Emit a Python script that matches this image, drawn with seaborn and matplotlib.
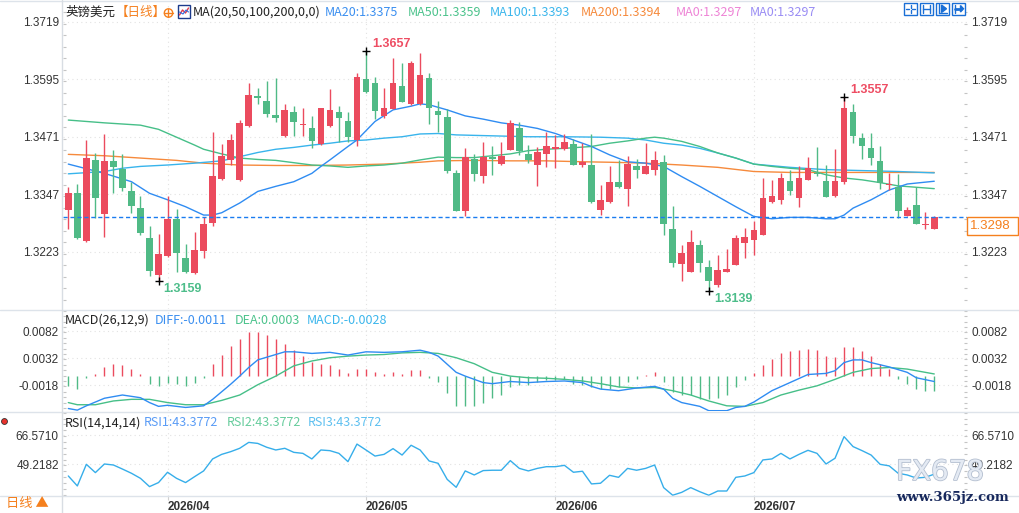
import numpy as np
import pandas as pd
import matplotlib
matplotlib.use("Agg")
import matplotlib.pyplot as plt
import matplotlib.patheffects as pe
from matplotlib.patches import Rectangle, Circle
from matplotlib.ticker import MultipleLocator
import seaborn as sns

# ---- values (GBP/USD daily) ----
dates = pd.bdate_range("2026-03-17", "2026-07-29")

opens = [1.3313, 1.3349, 1.3246, 1.3421, 1.3305, 1.3418, 1.3401, 1.3354, 1.3317, 1.3252,
         1.3173, 1.3214, 1.3293, 1.3209, 1.3178, 1.3225, 1.3284, 1.3380, 1.3421, 1.3377,
         1.3494, 1.3559, 1.3548, 1.3518, 1.3472, 1.3524, 1.3496, 1.3490, 1.3455, 1.3495,
         1.3524, 1.3505, 1.3464, 1.3595, 1.3587, 1.3516, 1.3531, 1.3580, 1.3541, 1.3541,
         1.3597, 1.3527, 1.3513, 1.3392, 1.3311, 1.3424, 1.3387, 1.3427, 1.3412, 1.3443,
         1.3490, 1.3434, 1.3410, 1.3434, 1.3444, 1.3444, 1.3455, 1.3410, 1.3410, 1.3313,
         1.3330, 1.3373, 1.3358, 1.3408, 1.3391, 1.3400, 1.3416, 1.3272, 1.3197, 1.3180,
         1.3237, 1.3190, 1.3152, 1.3180, 1.3195, 1.3242, 1.3249, 1.3259, 1.3330, 1.3334,
         1.3375, 1.3339, 1.3378, 1.3392, 1.3375, 1.3344, 1.3374, 1.3524, 1.3468, 1.3446,
         1.3418, 1.3367, 1.3363, 1.3300, 1.3324, 1.3280, 1.3272]
highs = [1.3363, 1.3370, 1.3464, 1.3437, 1.3476, 1.3442, 1.3433, 1.3374, 1.3343, 1.3278,
         1.3261, 1.3343, 1.3316, 1.3239, 1.3265, 1.3297, 1.3482, 1.3455, 1.3477, 1.3507,
         1.3587, 1.3577, 1.3592, 1.3597, 1.3541, 1.3538, 1.3533, 1.3515, 1.3534, 1.3574,
         1.3537, 1.3525, 1.3609, 1.3657, 1.3600, 1.3576, 1.3641, 1.3631, 1.3634, 1.3652,
         1.3608, 1.3548, 1.3530, 1.3400, 1.3447, 1.3434, 1.3459, 1.3451, 1.3459, 1.3507,
         1.3503, 1.3454, 1.3449, 1.3482, 1.3474, 1.3478, 1.3467, 1.3458, 1.3478, 1.3367,
         1.3408, 1.3421, 1.3429, 1.3422, 1.3457, 1.3440, 1.3431, 1.3322, 1.3237, 1.3270,
         1.3248, 1.3205, 1.3215, 1.3229, 1.3259, 1.3274, 1.3290, 1.3383, 1.3377, 1.3393,
         1.3399, 1.3408, 1.3427, 1.3449, 1.3410, 1.3444, 1.3557, 1.3541, 1.3479, 1.3479,
         1.3451, 1.3393, 1.3390, 1.3320, 1.3363, 1.3308, 1.3300]
lows = [1.3272, 1.3250, 1.3244, 1.3295, 1.3255, 1.3350, 1.3354, 1.3307, 1.3258, 1.3171,
        1.3159, 1.3212, 1.3180, 1.3178, 1.3175, 1.3209, 1.3279, 1.3377, 1.3410, 1.3376,
        1.3492, 1.3541, 1.3514, 1.3503, 1.3471, 1.3472, 1.3472, 1.3446, 1.3453, 1.3493,
        1.3460, 1.3460, 1.3451, 1.3566, 1.3510, 1.3512, 1.3530, 1.3546, 1.3540, 1.3540,
        1.3498, 1.3482, 1.3393, 1.3310, 1.3300, 1.3376, 1.3372, 1.3388, 1.3410, 1.3443,
        1.3431, 1.3415, 1.3365, 1.3406, 1.3404, 1.3443, 1.3410, 1.3406, 1.3329, 1.3302,
        1.3329, 1.3361, 1.3322, 1.3382, 1.3390, 1.3388, 1.3260, 1.3190, 1.3160, 1.3179,
        1.3180, 1.3139, 1.3147, 1.3179, 1.3194, 1.3210, 1.3216, 1.3258, 1.3329, 1.3326,
        1.3346, 1.3320, 1.3377, 1.3387, 1.3341, 1.3341, 1.3369, 1.3458, 1.3423, 1.3410,
        1.3358, 1.3357, 1.3295, 1.3299, 1.3283, 1.3272, 1.3271]
closes = [1.3349, 1.3252, 1.3425, 1.3339, 1.3418, 1.3406, 1.3361, 1.3322, 1.3264, 1.3182,
          1.3218, 1.3293, 1.3221, 1.3180, 1.3226, 1.3283, 1.3386, 1.3429, 1.3464, 1.3500,
          1.3561, 1.3555, 1.3521, 1.3512, 1.3528, 1.3503, 1.3498, 1.3462, 1.3533, 1.3528,
          1.3512, 1.3471, 1.3600, 1.3568, 1.3527, 1.3533, 1.3587, 1.3546, 1.3631, 1.3604,
          1.3534, 1.3518, 1.3397, 1.3311, 1.3427, 1.3390, 1.3427, 1.3423, 1.3430, 1.3500,
          1.3441, 1.3421, 1.3439, 1.3451, 1.3449, 1.3459, 1.3410, 1.3417, 1.3330, 1.3334,
          1.3373, 1.3363, 1.3412, 1.3400, 1.3408, 1.3421, 1.3283, 1.3199, 1.3220, 1.3244,
          1.3199, 1.3160, 1.3183, 1.3186, 1.3252, 1.3254, 1.3270, 1.3339, 1.3343, 1.3382,
          1.3354, 1.3382, 1.3403, 1.3390, 1.3341, 1.3375, 1.3533, 1.3472, 1.3451, 1.3425,
          1.3372, 1.3369, 1.3311, 1.3313, 1.3283, 1.3283, 1.3298]

# moving averages, read at sample candles
ma20_idx = [0, 4, 7, 9, 11, 13, 15, 16, 17, 19, 21, 23, 25, 27, 28, 29, 31, 32, 34, 36,
            38, 39, 40, 42, 44, 46, 48, 50, 52, 54, 56, 58, 60, 62, 64, 66, 68, 70, 72, 74,
            76, 78, 80, 82, 84, 85, 86, 87, 89, 91, 93, 96]
ma20_val = [1.3412, 1.3392, 1.3374, 1.3349, 1.3335, 1.3320, 1.3302, 1.3302, 1.3307, 1.3328,
            1.3353, 1.3364, 1.3374, 1.3392, 1.3407, 1.3421, 1.3450, 1.3464, 1.3504, 1.3529,
            1.3537, 1.3542, 1.3540, 1.3529, 1.3516, 1.3509, 1.3501, 1.3496, 1.3489, 1.3478,
            1.3464, 1.3450, 1.3432, 1.3417, 1.3414, 1.3407, 1.3385, 1.3364, 1.3342, 1.3320,
            1.3299, 1.3294, 1.3297, 1.3297, 1.3294, 1.3294, 1.3302, 1.3317, 1.3335, 1.3356,
            1.3369, 1.3375]
ma50_idx = [0, 4, 8, 10, 12, 14, 15, 17, 19, 21, 23, 25, 27, 29, 31, 33, 35, 37, 39, 41,
            43, 45, 47, 49, 51, 53, 55, 58, 60, 62, 64, 65, 66, 68, 70, 72, 74, 76, 78, 80,
            82, 84, 86, 88, 90, 92, 94, 96]
ma50_val = [1.3507, 1.3501, 1.3496, 1.3487, 1.3470, 1.3453, 1.3444, 1.3434, 1.3425, 1.3422,
            1.3420, 1.3415, 1.3410, 1.3408, 1.3405, 1.3408, 1.3410, 1.3414, 1.3421, 1.3427,
            1.3426, 1.3426, 1.3430, 1.3434, 1.3441, 1.3444, 1.3446, 1.3450, 1.3457, 1.3462,
            1.3468, 1.3470, 1.3468, 1.3461, 1.3450, 1.3436, 1.3425, 1.3412, 1.3407, 1.3403,
            1.3400, 1.3389, 1.3382, 1.3378, 1.3372, 1.3365, 1.3362, 1.3359]
ma100_idx = [0, 4, 6, 8, 11, 14, 17, 19, 21, 23, 25, 27, 29, 31, 33, 35, 37, 39, 41, 43,
             47, 51, 55, 59, 62, 64, 66, 68, 70, 72, 74, 76, 80, 84, 88, 92, 96]
ma100_val = [1.3391, 1.3396, 1.3403, 1.3407, 1.3410, 1.3414, 1.3419, 1.3428, 1.3437, 1.3444,
             1.3448, 1.3453, 1.3457, 1.3462, 1.3464, 1.3468, 1.3471, 1.3477, 1.3478, 1.3475,
             1.3473, 1.3471, 1.3471, 1.3470, 1.3468, 1.3464, 1.3457, 1.3453, 1.3446, 1.3436,
             1.3425, 1.3412, 1.3405, 1.3400, 1.3398, 1.3396, 1.3393]
ma200_idx = [0, 4, 8, 12, 15, 19, 23, 27, 31, 35, 39, 41, 45, 49, 53, 57, 60, 64, 68, 72,
             76, 80, 88, 96]
ma200_val = [1.3433, 1.3430, 1.3425, 1.3420, 1.3414, 1.3410, 1.3409, 1.3409, 1.3410, 1.3412,
             1.3416, 1.3419, 1.3420, 1.3419, 1.3419, 1.3417, 1.3416, 1.3414, 1.3410, 1.3405,
             1.3396, 1.3394, 1.3394, 1.3394]

# MACD(26,12,9)
macd_hist = [-0.0020, -0.0025, -0.0004, 0.0002, 0.0015, 0.0022, 0.0020, 0.0013, 0.0002, -0.0016,
             -0.0020, -0.0013, -0.0015, -0.0020, -0.0014, -0.0004, 0.0021, 0.0039, 0.0054, 0.0067,
             0.0080, 0.0080, 0.0075, 0.0067, 0.0059, 0.0048, 0.0036, 0.0025, 0.0022, 0.0020,
             0.0013, 0.0004, 0.0013, 0.0013, 0.0007, 0.0002, 0.0006, 0.0002, 0.0010, 0.0010,
             -0.0004, -0.0012, -0.0033, -0.0057, -0.0056, -0.0056, -0.0050, -0.0042, -0.0036, -0.0022,
             -0.0017, -0.0017, -0.0011, -0.0009, -0.0009, -0.0006, -0.0015, -0.0017, -0.0021, -0.0025,
             -0.0025, -0.0021, -0.0011, -0.0006, 0.0001, 0.0006, -0.0011, -0.0031, -0.0036, -0.0036,
             -0.0044, -0.0044, -0.0041, -0.0036, -0.0022, -0.0009, 0.0004, 0.0020, 0.0031, 0.0041,
             0.0046, 0.0047, 0.0050, 0.0048, 0.0037, 0.0035, 0.0052, 0.0052, 0.0046, 0.0037,
             0.0021, 0.0012, -0.0007, -0.0016, -0.0025, -0.0028, -0.0028]
diff_idx = [0, 1, 2, 4, 6, 8, 9, 10, 11, 13, 15, 16, 18, 19, 20, 21, 23, 24, 25, 27,
            29, 31, 33, 35, 37, 39, 40, 41, 42, 43, 44, 45, 46, 47, 49, 51, 53, 55, 57, 58,
            59, 61, 63, 65, 66, 67, 68, 70, 71, 73, 74, 75, 76, 78, 80, 82, 84, 85, 86, 87,
            88, 89, 91, 93, 94, 96]
diff_val = [-0.0061, -0.0064, -0.0056, -0.0042, -0.0036, -0.0041, -0.0050, -0.0057, -0.0055, -0.0059,
            -0.0056, -0.0044, -0.0016, -0.0001, 0.0015, 0.0029, 0.0039, 0.0044, 0.0044, 0.0041,
            0.0043, 0.0038, 0.0044, 0.0043, 0.0044, 0.0047, 0.0043, 0.0036, 0.0021, 0.0006,
            -0.0001, -0.0007, -0.0013, -0.0015, -0.0011, -0.0013, -0.0011, -0.0010, -0.0013, -0.0020,
            -0.0025, -0.0028, -0.0023, -0.0020, -0.0025, -0.0042, -0.0050, -0.0057, -0.0065, -0.0065,
            -0.0059, -0.0057, -0.0049, -0.0028, -0.0013, 0.0002, 0.0004, 0.0009, 0.0024, 0.0029,
            0.0029, 0.0024, 0.0016, 0.0006, -0.0004, -0.0011]
dea_idx = [0, 1, 3, 5, 7, 9, 11, 13, 15, 17, 19, 21, 23, 25, 27, 29, 31, 33, 35, 37,
           39, 41, 43, 45, 47, 49, 51, 53, 55, 57, 59, 61, 63, 65, 67, 69, 71, 73, 75, 77,
           79, 81, 83, 85, 87, 89, 91, 93, 95, 96]
dea_val = [-0.0050, -0.0054, -0.0054, -0.0047, -0.0044, -0.0044, -0.0050, -0.0054, -0.0054, -0.0046,
           -0.0036, -0.0017, -0.0001, 0.0018, 0.0027, 0.0033, 0.0036, 0.0038, 0.0039, 0.0042,
           0.0043, 0.0041, 0.0033, 0.0022, 0.0006, -0.0001, -0.0004, -0.0005, -0.0007, -0.0010,
           -0.0015, -0.0021, -0.0023, -0.0022, -0.0028, -0.0036, -0.0047, -0.0056, -0.0057, -0.0050,
           -0.0036, -0.0027, -0.0019, -0.0007, 0.0006, 0.0013, 0.0015, 0.0012, 0.0006, 0.0003]

# RSI(14,14,14) - all three lines coincide
rsi = [42.3, 36.4, 49.2, 44.3, 49.4, 48.8, 46.4, 43.9, 40.9, 36.0,
       38.4, 44.5, 40.9, 38.4, 41.9, 45.3, 52.4, 55.1, 56.7, 58.7,
       62.2, 61.6, 59.3, 57.7, 58.7, 56.3, 55.7, 52.4, 57.7, 57.3,
       55.7, 50.8, 61.2, 57.7, 54.1, 55.1, 58.5, 54.7, 60.5, 57.7,
       51.2, 49.8, 40.3, 35.6, 45.3, 42.9, 45.5, 45.7, 45.7, 51.4,
       46.8, 45.3, 46.8, 47.8, 47.8, 48.6, 44.5, 45.1, 37.6, 38.0,
       42.7, 41.5, 46.8, 45.7, 46.8, 48.8, 35.4, 30.9, 32.6, 35.4,
       33.0, 30.9, 33.4, 33.4, 41.5, 42.3, 44.3, 51.8, 52.4, 55.7,
       52.4, 55.1, 57.5, 55.7, 49.4, 52.8, 65.6, 59.7, 57.3, 54.7,
       49.2, 48.3, 43.9, 42.9, 41.1, 41.5, 43.3772]

hi_marks = [33, 86]
lo_marks = [10, 71]
ma0_label = "MA0:1.3297"

price_ticks = [1.3223, 1.3347, 1.3471, 1.3595, 1.3719]
macd_ticks = [-0.0018, 0.0032, 0.0082]
rsi_ticks = [49.2182, 66.5710]

# ---- colours ----
RED = "#eb4b5e"
GRN = "#50ba86"
BLUE = "#2f8cf2"
MA50C = "#46bf88"
MA100C = "#38b4ec"
MA200C = "#f68a3c"
ORANGE = "#f5801e"
GRID = "#e2e2e2"
CJK = ["Noto Sans CJK SC", "DejaVu Sans"]

sns.set_theme(style="white")
plt.rcParams["font.family"] = ["Liberation Sans", "Noto Sans CJK SC", "DejaVu Sans"]
plt.rcParams["axes.unicode_minus"] = False

W, H = 1019, 513
fig = plt.figure(figsize=(W / 100, H / 100), dpi=100)
fig.patch.set_facecolor("white")

L, R = 63, 967
XL = (-0.59, 99.63)


def panel(top, bottom):
    return fig.add_axes([L / W, 1 - bottom / H, (R - L) / W, (bottom - top) / H])


ax = panel(5, 309)
axm = panel(310, 411)
axr = panel(412, 496)

x = np.arange(len(dates))
month_idx = [i for i in range(1, len(dates)) if dates[i].month != dates[i - 1].month]


def style(a, ticks, fmt, ylim, minor):
    a.set_xlim(*XL)
    a.set_ylim(*ylim)
    a.set_facecolor("none")
    a.grid(False)
    for s in a.spines.values():
        s.set_visible(False)
    a.set_yticks(ticks)
    a.set_yticklabels([fmt.format(t) for t in ticks])
    a.yaxis.set_minor_locator(MultipleLocator(minor))
    a.tick_params(axis="y", which="major", left=False, right=False, length=0,
                  labelleft=True, labelright=True, labelsize=8.5,
                  labelcolor="#333333", pad=3)
    a.tick_params(axis="y", which="minor", left=True, right=True, direction="in",
                  length=2, width=0.8, color="#c4c4c4")
    for t in ticks:
        a.axhline(t, color=GRID, ls=(0, (1, 3)), lw=0.8, zorder=0)
    for m in month_idx:
        a.axvline(m, color=GRID, ls=(0, (1, 3)), lw=0.8, zorder=0)
    a.set_xticks([])


style(ax, price_ticks, "{:.4f}", (1.30993, 1.37553), 0.00248)
style(axm, macd_ticks, "{:.4f}", (-0.00656, 0.01214), 0.001)
style(axr, rsi_ticks, "{:.4f}", (30.44, 80.2), 3.47)

# ---- candles ----
o, h, l, c = map(np.array, (opens, highs, lows, closes))
cols = np.where(c >= o, RED, GRN)
for ma_i, ma_v, col in [(ma200_idx, ma200_val, MA200C), (ma100_idx, ma100_val, MA100C),
                        (ma50_idx, ma50_val, MA50C), (ma20_idx, ma20_val, BLUE)]:
    sns.lineplot(x=ma_i, y=ma_v, ax=ax, color=col, lw=1, zorder=2, legend=False)
ax.vlines(x, l, h, colors=cols, lw=1, zorder=3)
ax.bar(x, np.maximum(np.abs(c - o), 0.00022), bottom=np.minimum(o, c), width=0.74,
       color=cols, lw=0, zorder=4)
ax.axhline(closes[-1], color="#1a7cf0", lw=1, ls=(0, (3, 2)), zorder=5)

for i in hi_marks:
    ax.plot(i, highs[i], marker="+", color="black", ms=6, mew=1, zorder=6)
    ax.annotate(f"{highs[i]:.4f}", (i, highs[i]), xytext=(6, 7), textcoords="offset pixels",
                color="#ee4d63", fontsize=9, fontweight="bold", va="center", ha="left")
for i in lo_marks:
    ax.plot(i, lows[i], marker="+", color="black", ms=6, mew=1, zorder=6)
    ax.annotate(f"{lows[i]:.4f}", (i, lows[i]), xytext=(5, -8), textcoords="offset pixels",
                color="#4dbd8a", fontsize=9, fontweight="bold", va="center", ha="left")

# ---- MACD ----
hist = np.array(macd_hist)
axm.vlines(x, 0, hist, colors=np.where(hist >= 0, RED, GRN), lw=1, zorder=2)
sns.lineplot(x=dea_idx, y=dea_val, ax=axm, color=MA50C, lw=1, zorder=3, legend=False)
sns.lineplot(x=diff_idx, y=diff_val, ax=axm, color=BLUE, lw=1, zorder=3, legend=False)

# ---- RSI ----
sns.lineplot(x=x, y=rsi, ax=axr, color="#36aeea", lw=1, legend=False)
axr.set_xticks(month_idx)
axr.set_xticklabels([dates[i].strftime("%Y/%m") for i in month_idx], ha="left",
                    fontweight="bold", fontsize=8.5, color="#333333")
axr.tick_params(axis="x", bottom=True, length=3, width=0.8, color="#d0d0d0", pad=0.5)
axr.set_xlim(*XL)

# ---- overlay: headers, frame lines, watermark ----
ov = fig.add_axes([0, 0, 1, 1], zorder=10)
ov.set_xlim(0, W)
ov.set_ylim(H, 0)
ov.axis("off")
ov.patch.set_alpha(0)

for yy in (0.5, 310, 412, 496):
    ov.plot([0, W], [yy, yy], color="#dde3ea", lw=1)
ov.plot([62.5, 62.5], [0, H], color="#d8dde3", lw=1)


def header(y, items, size=9):
    for x0, s, col in items:
        ov.text(x0, y, s, color=col, fontsize=size, va="center", ha="left", family=CJK)


header(12, [(65, "英镑美元", "#222222"), (116, "【日线】", ORANGE),
            (193, "MA(20,50,100,200,0,0)", "#222222"),
            (325, f"MA20:{ma20_val[-1]:.4f}", "#3b8ff0"),
            (408, f"MA50:{ma50_val[-1]:.4f}", "#4cc38c"),
            (490, f"MA100:{ma100_val[-1]:.4f}", "#3cb6ec"),
            (581, f"MA200:{ma200_val[-1]:.4f}", "#f68a3c"),
            (676, ma0_label, "#ee84d6"), (750, ma0_label, "#9a8df4")])
# small crosshair-circle icon after the period tag
ov.add_patch(Circle((168.5, 13), 4.2, fill=False, ec=ORANGE, lw=1))
ov.plot([164.3, 172.7], [13, 13], color=ORANGE, lw=1)
ov.plot([168.5, 168.5], [8.8, 17.2], color=ORANGE, lw=1)
ov.add_patch(Rectangle((178, 5), 12, 13, fc="white", ec="#1c3b8c", lw=1))
ov.plot([179.5, 182.5, 185.5, 188.5], [15, 10, 13, 8], color="#e03a4a", lw=1)
ov.plot([179.5, 183, 186, 188.5], [12, 14, 10, 12], color="#2f6fe0", lw=0.8)

header(320, [(65, "MACD(26,12,9)", "#222222"),
             (155, f"DIFF:{diff_val[-1]:.4f}", "#3b8ff0"),
             (235, f"DEA:{dea_val[-1]:.4f}", "#4cc38c"),
             (307, f"MACD:{macd_hist[-1]:.4f}", "#3cb6ec")])
header(423, [(65, "RSI(14,14,14)", "#222222"),
             (144, f"RSI1:{rsi[-1]:.4f}", "#5a9cf6"),
             (227, f"RSI2:{rsi[-1]:.4f}", "#66cc9c"),
             (308, f"RSI3:{rsi[-1]:.4f}", "#5ec0f0")])

ov.text(6, 504, "日线 ▲", color=ORANGE, fontsize=9.5, va="center", ha="left", family=CJK)
ov.scatter([4], [421], s=18, color="#e8322c", edgecolors="#333333", linewidths=0.6)

# toolbar icons, top right
for k, x0 in enumerate((904.5, 920.5, 936.5, 952.5)):
    ov.add_patch(Rectangle((x0, 2.5), 12.5, 12.5, fc="white", ec="#1a6fd6", lw=1))
    cx, cy = x0 + 6.25, 8.75
    if k == 0:
        ov.plot([cx, cx], [4.5, 7.5], color="#1a6fd6", lw=1)
        ov.plot([cx, cx], [10, 13], color="#1a6fd6", lw=1)
        ov.plot([x0 + 2, x0 + 5], [cy, cy], color="#1a6fd6", lw=1)
        ov.plot([x0 + 7.5, x0 + 10.5], [cy, cy], color="#1a6fd6", lw=1)
    elif k == 1:
        ov.plot([x0 + 3, x0 + 3], [4.5, 13], color="#1a6fd6", lw=1)
        ov.plot([x0 + 9.5, x0 + 9.5], [4.5, 13], color="#1a6fd6", lw=1)
        ov.plot([x0 + 3, x0 + 9.5], [cy, cy], color="#1a6fd6", lw=1)
    elif k == 2:
        ov.plot([x0 + 3, x0 + 3], [4, 13], color="#1a6fd6", lw=1)
        ov.plot([x0 + 3, x0 + 10.5], [13, 13], color="#1a6fd6", lw=1)
        ov.fill([x0 + 5, x0 + 10, x0 + 5], [5, cy, 12.5], color="#1a6fd6")
    else:
        ov.plot([x0 + 2.5, x0 + 2.5], [4.5, 13], color="#1a6fd6", lw=1)
        ov.plot([x0 + 3, x0 + 9], [cy, cy], color="#1a6fd6", lw=2)
        ov.fill([x0 + 8, x0 + 11, x0 + 8], [5.5, cy, 12], color="#1a6fd6")

# last price box on the right axis
yp = H - ax.transData.transform((0, closes[-1]))[1]
ov.add_patch(Rectangle((967.5, yp), 51, 18, fc="white", ec=ORANGE, lw=1))
ov.text(970, yp + 9.5, f"{closes[-1]:.4f}", color=ORANGE, fontsize=9.5, va="center", ha="left")

# watermark
ov.text(940, 472, "FX678", fontsize=20, color="#e4eaf3", ha="center", va="center",
        family="DejaVu Sans",
        path_effects=[pe.withStroke(linewidth=1.2, foreground="#b4bfd0")])
ov.text(953, 498, "www.365jz.com", fontsize=9.5, color="#17285c", ha="center", va="center",
        family="DejaVu Serif", fontweight="bold")

fig.savefig("out.png", dpi=100)
